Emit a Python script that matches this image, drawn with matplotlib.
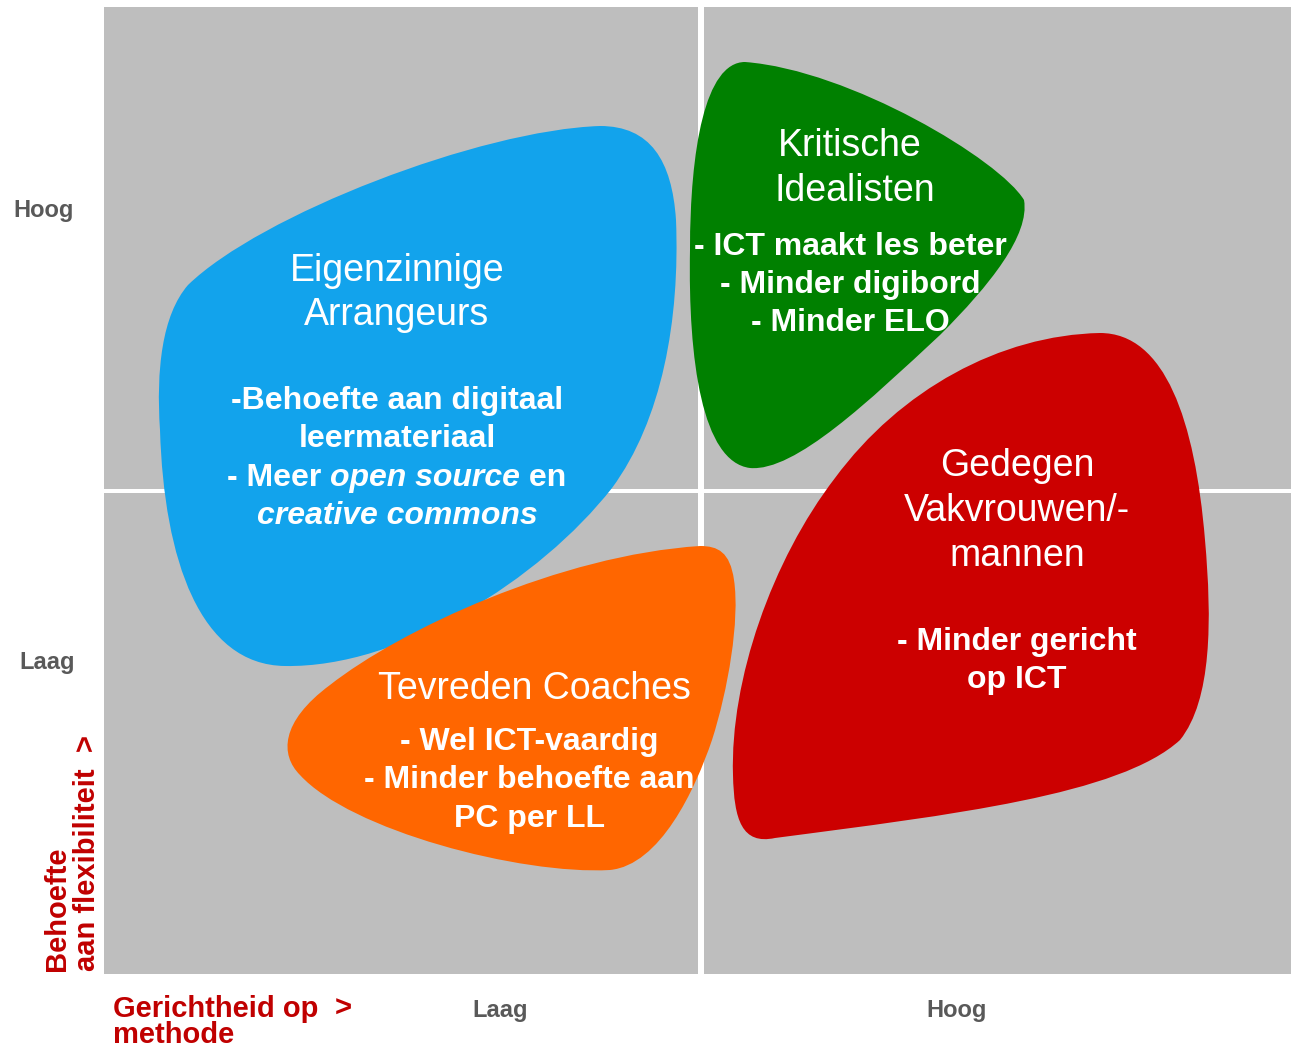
import matplotlib
matplotlib.use("Agg")
import matplotlib.pyplot as plt
from matplotlib.path import Path
from matplotlib.patches import PathPatch, Rectangle

plt.rcParams['font.family'] = ['Liberation Sans', 'DejaVu Sans']

# quadrant grid (pixel space, y downwards)
quad_x = [(104, 698), (704, 1291)]
quad_y = [(7, 489), (493, 974)]
grey = '#BEBEBE'

# axis tick labels
y_labels = ['Hoog', 'Laag']
y_label_pos = [(44, 210), (47, 663)]
x_labels = ['Laag', 'Hoog']
x_label_pos = [(500, 1011), (957, 1011)]

# blob outlines: start point followed by cubic bezier triples (c1, c2, end)
blue_blob = [(600, 126),
             (480, 130), (260, 215), (188, 285),
             (162, 315), (156, 370), (160, 430),
             (164, 560), (200, 665), (285, 666),
             (400, 668), (540, 580), (612, 488),
             (662, 420), (680, 320), (676, 220),
             (672, 160), (650, 126), (600, 126)]
green_blob = [(745, 62),
              (850, 70), (1000, 160), (1024, 200),
              (1030, 235), (990, 285), (940, 335),
              (870, 400), (795, 472), (750, 468),
              (702, 462), (688, 360), (690, 250),
              (690, 150), (705, 62), (745, 62)]
red_blob = [(1100, 333),
            (1000, 335), (900, 390), (835, 478),
            (772, 560), (730, 680), (733, 775),
            (734, 820), (742, 845), (775, 838),
            (950, 815), (1120, 795), (1180, 740),
            (1212, 700), (1212, 620), (1205, 540),
            (1195, 420), (1165, 333), (1100, 333)]
orange_blob = [(700, 546),
               (560, 555), (400, 630), (330, 685),
               (280, 722), (280, 755), (300, 775),
               (350, 830), (520, 875), (610, 870),
               (660, 865), (695, 790), (712, 740),
               (728, 690), (740, 620), (734, 580),
               (730, 552), (718, 546), (700, 546)]
blobs = [blue_blob, green_blob, red_blob, orange_blob]
blob_colors = ['#12A3EC', '#008000', '#CC0000', '#FF6600']

# titles (normal) and bullets (bold): (text, x, y)
titles = [('Eigenzinnige', 397, 271), ('Arrangeurs', 397, 315),
          ('Kritische', 850, 146), ('Idealisten', 855, 191),
          ('Gedegen', 1017, 466), ('Vakvrouwen/-', 1017, 511), ('mannen', 1017, 556),
          ('Tevreden Coaches', 534, 689)]
bullets = [('-Behoefte aan digitaal', 397, 401), ('leermateriaal', 397, 439),
           ('- ICT maakt les beter', 850, 247), ('- Minder digibord', 850, 285),
           ('- Minder ELO', 850, 323),
           ('- Minder gericht', 1017, 642), ('op ICT', 1017, 680),
           ('- Wel ICT-vaardig', 529, 742), ('- Minder behoefte aan', 529, 780),
           ('PC per LL', 529, 819)]
# mixed line: (text, italic) pieces
mixed_line = [('- Meer ', False), ('open source', True), (' en', False)]
mixed_pos = (397, 478)
italic_line = ('creative commons', 397, 516)

W, H = 1291, 1047
fig = plt.figure(figsize=(W / 100, H / 100), dpi=100)
ax = fig.add_axes([0, 0, 1, 1])
ax.set_xlim(0, W)
ax.set_ylim(H, 0)
ax.axis('off')

for x0, x1 in quad_x:
    for y0, y1 in quad_y:
        ax.add_patch(Rectangle((x0, y0), x1 - x0, y1 - y0, color=grey, lw=0, zorder=1))

for pts, col in zip(blobs, blob_colors):
    codes = [Path.MOVETO] + [Path.CURVE4] * (len(pts) - 1)
    ax.add_patch(PathPatch(Path(pts, codes), facecolor=col, edgecolor='none', zorder=2))

for s, (x, y) in zip(y_labels, y_label_pos):
    ax.text(x, y, s, ha='center', va='center', fontsize=17, fontweight='bold', color='#595959')
for s, (x, y) in zip(x_labels, x_label_pos):
    ax.text(x, y, s, ha='center', va='center', fontsize=17, fontweight='bold', color='#595959')

for s, x, y in titles:
    ax.text(x, y, s, ha='center', va='center', fontsize=27, color='white', zorder=3)
for s, x, y in bullets:
    ax.text(x, y, s, ha='center', va='center', fontsize=23, fontweight='bold',
            color='white', zorder=3)
s, x, y = italic_line
ax.text(x, y, s, ha='center', va='center', fontsize=23, fontweight='bold',
        style='italic', color='white', zorder=3)

# mixed style line: measure pieces then place side by side
fig.canvas.draw()
r = fig.canvas.get_renderer()
pieces = []
for s, it in mixed_line:
    t = ax.text(0, mixed_pos[1], s, ha='left', va='center', fontsize=23, fontweight='bold',
                style='italic' if it else 'normal', color='white', zorder=3)
    pieces.append((t, t.get_window_extent(r).width))
total = sum(w for _, w in pieces)
cx = mixed_pos[0] - total / 2
for t, w in pieces:
    t.set_x(cx)
    cx += w

# axis titles
red = '#C00000'
ax.text(113, 1022, 'Gerichtheid op\nmethode', ha='left', va='center', fontsize=21,
        fontweight='bold', color=red, linespacing=0.92)
ax.text(343, 1009, '>', ha='center', va='center', fontsize=21, fontweight='bold', color=red)
ax.text(72, 971, 'Behoefte\naan flexibiliteit  >', ha='center', va='bottom', rotation=90,
        fontsize=21, fontweight='bold', color=red, linespacing=1.08, multialignment='left')

fig.savefig('out.png', dpi=100)
